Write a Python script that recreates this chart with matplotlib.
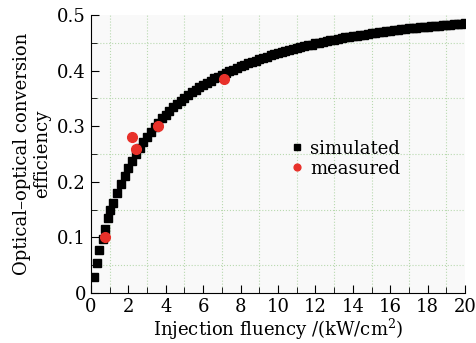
import numpy as np
import matplotlib.pyplot as plt
from matplotlib.ticker import MultipleLocator, FuncFormatter

# simulated efficiency vs injection fluency
sim_x = [0.18, 0.3, 0.43, 0.62, 0.75, 0.89, 1.02, 1.2, 1.4, 1.6, 1.8, 2.0,
         2.2, 2.4, 2.6, 2.8, 3.0, 3.2, 3.4, 3.6, 3.8, 4.0,
         4.2, 4.4, 4.6, 4.8, 5.0, 5.2, 5.4, 5.6, 5.8, 6.0,
         6.2, 6.4, 6.6, 6.8, 7.0, 7.2, 7.4, 7.6, 7.8, 8.0,
         8.2, 8.4, 8.6, 8.8, 9.0, 9.2, 9.4, 9.6, 9.8, 10.0,
         10.2, 10.4, 10.6, 10.8, 11.0, 11.2, 11.4, 11.6, 11.8, 12.0,
         12.2, 12.4, 12.6, 12.8, 13.0, 13.2, 13.4, 13.6, 13.8, 14.0,
         14.2, 14.4, 14.6, 14.8, 15.0, 15.2, 15.4, 15.6, 15.8, 16.0,
         16.2, 16.4, 16.6, 16.8, 17.0, 17.2, 17.4, 17.6, 17.8, 18.0,
         18.2, 18.4, 18.6, 18.8, 19.0, 19.2, 19.4, 19.6, 19.8, 20.0]
sim_y = [0.028, 0.053, 0.077, 0.097, 0.115, 0.134, 0.149, 0.162, 0.180, 0.196, 0.211, 0.225,
         0.238, 0.250, 0.261, 0.272, 0.281, 0.290, 0.299, 0.306, 0.314, 0.321,
         0.328, 0.334, 0.340, 0.346, 0.351, 0.356, 0.361, 0.366, 0.370, 0.374,
         0.378, 0.382, 0.386, 0.389, 0.393, 0.396, 0.399, 0.402, 0.405, 0.408,
         0.411, 0.413, 0.416, 0.418, 0.421, 0.423, 0.425, 0.428, 0.430, 0.432,
         0.434, 0.435, 0.437, 0.439, 0.441, 0.443, 0.444, 0.446, 0.447, 0.449,
         0.450, 0.452, 0.453, 0.455, 0.456, 0.457, 0.458, 0.460, 0.461, 0.462,
         0.463, 0.464, 0.465, 0.466, 0.467, 0.468, 0.469, 0.470, 0.471, 0.472,
         0.473, 0.474, 0.4745, 0.4752, 0.4759, 0.4766, 0.4773, 0.4780, 0.4787, 0.4794,
         0.4800, 0.4806, 0.4812, 0.4818, 0.4824, 0.4830, 0.4836, 0.4842, 0.4848, 0.4854]

# measured points
meas_x = [0.75, 2.2, 2.4, 3.6, 7.1]
meas_y = [0.100, 0.281, 0.259, 0.301, 0.385]

plt.rcParams['font.family'] = 'DejaVu Serif'
plt.rcParams['mathtext.fontset'] = 'dejavuserif'

fig = plt.figure(figsize=(4.76, 3.43), dpi=100)
ax = fig.add_axes([0.191, 0.146, 0.786, 0.81])
ax.set_facecolor('#f9f9f9')

ax.plot(sim_x, sim_y, 's', color='black', markersize=6, label='simulated')
ax.plot(meas_x, meas_y, 'o', color='#e8312a', markersize=7, label='measured')

ax.set_xlim(0, 20)
ax.set_ylim(0, 0.5)
ax.xaxis.set_major_locator(MultipleLocator(2))
ax.xaxis.set_minor_locator(MultipleLocator(1))
ax.yaxis.set_major_locator(MultipleLocator(0.1))
ax.yaxis.set_minor_locator(MultipleLocator(0.05))
ax.yaxis.set_major_formatter(FuncFormatter(lambda v, p: '0' if v == 0 else '%.1f' % v))
ax.grid(True, which='minor', color='#b9d9b0', linestyle=':', linewidth=0.8)
ax.tick_params(which='both', direction='in', labelsize=13, top=False, right=False)
ax.tick_params(which='major', length=6)
ax.tick_params(which='minor', length=4)
ax.spines['top'].set_visible(False)
ax.spines['right'].set_visible(False)

ax.set_xlabel('Injection fluency /(kW/cm$^2$)', fontsize=13, labelpad=1)
ax.set_ylabel('Optical\u2013optical conversion\nefficiency', fontsize=13, labelpad=4)

ax.legend(loc='upper left', bbox_to_anchor=(0.484, 0.61), frameon=False,
          fontsize=13, handletextpad=0.2, labelspacing=0.1, handlelength=1,
          markerscale=0.7)

fig.savefig('out.png', dpi=100)
